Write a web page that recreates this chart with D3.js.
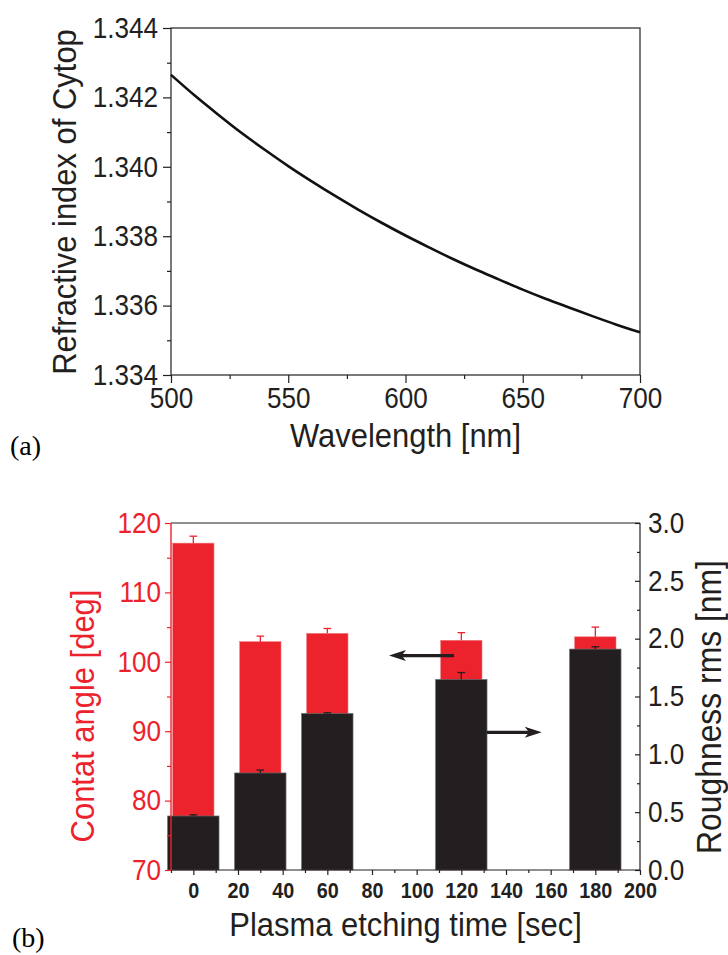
<!DOCTYPE html>
<html>
<head>
<meta charset="utf-8">
<script src="https://cdn.jsdelivr.net/npm/d3@7/dist/d3.min.js"></script>
<style>
  html, body { margin: 0; padding: 0; background: #fff; }
  svg { display: block; }
  text { font-family: "Liberation Sans", Arial, Helvetica, sans-serif; }
</style>
</head>
<body>
<svg id="chart" width="728" height="955"></svg>
<script>
// ---------- Data: panel (a) ----------
const wavelength = [500, 510, 520, 530, 540, 550, 560, 570, 580, 590, 600,
                    610, 620, 630, 640, 650, 660, 670, 680, 690, 700];
const refractiveIndex = [1.34265, 1.34206, 1.34151, 1.34098, 1.34049, 1.34002,
                         1.33958, 1.33916, 1.33876, 1.33838, 1.33802, 1.33768,
                         1.33735, 1.33704, 1.33675, 1.33646, 1.33619, 1.33594,
                         1.33569, 1.33545, 1.33523];
const wavelengthTicks = [500, 550, 600, 650, 700];
const wavelengthMinor = [525, 575, 625, 675];
const indexTicks = [1.334, 1.336, 1.338, 1.340, 1.342, 1.344];
const indexMinor = [1.335, 1.337, 1.339, 1.341, 1.343];

// ---------- Data: panel (b) ----------
const etchTime = [0, 30, 60, 120, 180];
const contactAngle = [117.1, 102.9, 104.1, 103.1, 103.6];
const contactAngleErr = [1.0, 0.8, 0.7, 1.1, 1.4];
const roughness = [0.467, 0.839, 1.353, 1.647, 1.910];
const roughnessErr = [0.010, 0.025, 0.006, 0.060, 0.020];
const timeTicks = [0, 20, 40, 60, 80, 100, 120, 140, 160, 180, 200];
const timeMinor = [-10, 10, 30, 50, 70, 90, 110, 130, 150, 170, 190];
const angleTicks = [70, 80, 90, 100, 110, 120];
const angleMinor = [75, 85, 95, 105, 115];
const roughTicks = [0, 0.5, 1.0, 1.5, 2.0, 2.5, 3.0];
const roughMinor = [0.25, 0.75, 1.25, 1.75, 2.25, 2.75];
// annotation arrows: [x start, x end, y value]
const arrowToAngle = [116.7, 87.6, 100.9];
const arrowToRoughness = [131.4, 156.0, 1.19];

// ---------- Styles ----------
const RED = "#ec222c";
const BLK = "#231f20";
const redBarWidth = 18.5;   // in time units
const blackBarWidth = 23;   // in time units
const SX = 0.9;             // horizontal condensing of the lettering
const TSX = 0.91;

const svg = d3.select("#chart");

function styleAxis(g, color, fontSize, weight, sx) {
  g.select(".domain").remove();
  g.selectAll(".tick line").attr("stroke", color).attr("stroke-width", 1.2);
  g.selectAll(".tick text").attr("fill", color)
    .style("font-size", fontSize + "px")
    .style("font-weight", weight || "normal")
    .style("font-family", "'Liberation Sans', Arial, sans-serif");
  if (sx) g.selectAll(".tick text").attr("transform", `scale(${sx},1)`);
}

// =================== Panel (a) ===================
const A = {left: 171, right: 640, top: 28, bottom: 375};
const xW = d3.scaleLinear().domain([500, 700]).range([A.left, A.right]);
const yN = d3.scaleLinear().domain([1.334, 1.344]).range([A.bottom, A.top]);

const gA = svg.append("g");

gA.append("g").attr("transform", `translate(${A.left},0)`)
  .call(d3.axisLeft(yN).tickValues(indexMinor).tickSize(4).tickFormat(""))
  .call(g => styleAxis(g, BLK, 29));
gA.append("g").attr("transform", `translate(0,${A.bottom})`)
  .call(d3.axisBottom(xW).tickValues(wavelengthMinor).tickSize(4).tickFormat(""))
  .call(g => styleAxis(g, BLK, 29));
gA.append("g").attr("transform", `translate(${A.left},0)`)
  .call(d3.axisLeft(yN).tickValues(indexTicks).tickSize(8).tickPadding(6.4).tickFormat(d3.format(".3f")))
  .call(g => styleAxis(g, BLK, 29, "normal", SX));
gA.append("g").attr("transform", `translate(0,${A.bottom})`)
  .call(d3.axisBottom(xW).tickValues(wavelengthTicks).tickSize(8).tickPadding(4).tickFormat(d3.format("d")))
  .call(g => styleAxis(g, BLK, 29, "normal", SX));

gA.append("rect")
  .attr("x", A.left).attr("y", A.top)
  .attr("width", A.right - A.left).attr("height", A.bottom - A.top)
  .attr("fill", "none").attr("stroke", BLK).attr("stroke-width", 1.2);

gA.append("path")
  .datum(wavelength.map((w, i) => [w, refractiveIndex[i]]))
  .attr("fill", "none").attr("stroke", "#111").attr("stroke-width", 2.6)
  .attr("d", d3.line().x(d => xW(d[0])).y(d => yN(d[1])).curve(d3.curveMonotoneX));

gA.append("text")
  .attr("transform", `translate(${(A.left + A.right) / 2},447) scale(${TSX},1)`)
  .attr("text-anchor", "middle").attr("fill", BLK)
  .style("font-size", "34px").text("Wavelength [nm]");
gA.append("text")
  .attr("transform", `translate(76,${(A.top + A.bottom) / 2 + 0.5}) rotate(-90) scale(${TSX},1)`)
  .attr("text-anchor", "middle").attr("fill", BLK)
  .style("font-size", "34px").text("Refractive index of Cytop");
gA.append("text")
  .attr("x", 10).attr("y", 455).attr("fill", "#000")
  .style("font-family", "'Liberation Serif', 'Times New Roman', serif")
  .style("font-size", "28px").text("(a)");

// =================== Panel (b) ===================
const B = {left: 171, right: 640, top: 523, bottom: 870};
const xT = d3.scaleLinear().domain([-10, 200]).range([B.left, B.right]);
const yA = d3.scaleLinear().domain([70, 120]).range([B.bottom, B.top]);
const yR = d3.scaleLinear().domain([0, 3]).range([B.bottom, B.top]);

const gB = svg.append("g");

gB.selectAll("rect.red").data(etchTime).enter().append("rect")
  .attr("class", "red")
  .attr("x", d => xT(d - redBarWidth / 2))
  .attr("width", xT(redBarWidth) - xT(0))
  .attr("y", (d, i) => yA(contactAngle[i]))
  .attr("height", (d, i) => yA(70) - yA(contactAngle[i]))
  .attr("fill", RED).attr("stroke", "#f07a80").attr("stroke-width", 0.6);

const capHalf = 3.8;
const redErr = gB.selectAll("g.rerr").data(etchTime).enter().append("g").attr("class", "rerr");
redErr.append("line")
  .attr("x1", d => xT(d)).attr("x2", d => xT(d))
  .attr("y1", (d, i) => yA(contactAngle[i]))
  .attr("y2", (d, i) => yA(contactAngle[i] + contactAngleErr[i]))
  .attr("stroke", RED).attr("stroke-width", 1.3);
redErr.append("line")
  .attr("x1", d => xT(d) - capHalf).attr("x2", d => xT(d) + capHalf)
  .attr("y1", (d, i) => yA(contactAngle[i] + contactAngleErr[i]))
  .attr("y2", (d, i) => yA(contactAngle[i] + contactAngleErr[i]))
  .attr("stroke", RED).attr("stroke-width", 1.3);

gB.selectAll("rect.blk").data(etchTime).enter().append("rect")
  .attr("class", "blk")
  .attr("x", d => xT(d - blackBarWidth / 2))
  .attr("width", xT(blackBarWidth) - xT(0))
  .attr("y", (d, i) => yR(roughness[i]))
  .attr("height", (d, i) => yR(0) - yR(roughness[i]))
  .attr("fill", BLK).attr("stroke", "#6d6a6b").attr("stroke-width", 0.7);

const blkErr = gB.selectAll("g.berr").data(etchTime).enter().append("g").attr("class", "berr");
blkErr.append("line")
  .attr("x1", d => xT(d)).attr("x2", d => xT(d))
  .attr("y1", (d, i) => yR(roughness[i]))
  .attr("y2", (d, i) => yR(roughness[i] + roughnessErr[i]))
  .attr("stroke", BLK).attr("stroke-width", 1.3);
blkErr.append("line")
  .attr("x1", d => xT(d) - capHalf).attr("x2", d => xT(d) + capHalf)
  .attr("y1", (d, i) => yR(roughness[i] + roughnessErr[i]))
  .attr("y2", (d, i) => yR(roughness[i] + roughnessErr[i]))
  .attr("stroke", BLK).attr("stroke-width", 1.3);

// axes
gB.append("g").attr("transform", `translate(${B.left},0)`)
  .call(d3.axisLeft(yA).tickValues(angleMinor).tickSize(4).tickFormat(""))
  .call(g => styleAxis(g, RED, 29));
gB.append("g").attr("transform", `translate(${B.left},0)`)
  .call(d3.axisLeft(yA).tickValues(angleTicks).tickSize(6).tickPadding(5.1).tickFormat(d3.format("d")))
  .call(g => styleAxis(g, RED, 29, "normal", SX));

gB.append("g").attr("transform", `translate(${B.right},0)`)
  .call(d3.axisRight(yR).tickValues(roughMinor).tickSize(-3).tickFormat(""))
  .call(g => styleAxis(g, BLK, 29));
gB.append("g").attr("transform", `translate(${B.right},0)`)
  .call(d3.axisRight(yR).tickValues(roughTicks).tickSize(-5).tickPadding(8.9).tickFormat(d3.format(".1f")))
  .call(g => styleAxis(g, BLK, 29, "normal", SX));

gB.append("g").attr("transform", `translate(0,${B.bottom})`)
  .call(d3.axisBottom(xT).tickValues(timeMinor).tickSize(3).tickFormat(""))
  .call(g => styleAxis(g, BLK, 22));
gB.append("g").attr("transform", `translate(0,${B.bottom})`)
  .call(d3.axisBottom(xT).tickValues(timeTicks).tickSize(5).tickPadding(7.5).tickFormat(d3.format("d")))
  .call(g => styleAxis(g, BLK, 22, "bold", 0.9));

gB.append("line").attr("x1", B.left).attr("x2", B.right).attr("y1", B.top).attr("y2", B.top)
  .attr("stroke", BLK).attr("stroke-width", 1.2);
gB.append("line").attr("x1", B.left).attr("x2", B.right).attr("y1", B.bottom).attr("y2", B.bottom)
  .attr("stroke", BLK).attr("stroke-width", 1.2);
gB.append("line").attr("x1", B.right).attr("x2", B.right).attr("y1", B.top).attr("y2", B.bottom)
  .attr("stroke", BLK).attr("stroke-width", 1.2);
gB.append("line").attr("x1", B.left).attr("x2", B.left).attr("y1", B.top).attr("y2", B.bottom)
  .attr("stroke", RED).attr("stroke-width", 1.4);

function drawArrow(x1, x2, y) {
  const dir = Math.sign(x2 - x1);
  const headLen = 17, headHalf = 5.5;
  gB.append("line")
    .attr("x1", x1).attr("x2", x2 - dir * headLen * 0.6)
    .attr("y1", y).attr("y2", y)
    .attr("stroke", BLK).attr("stroke-width", 3.2);
  gB.append("path")
    .attr("d", `M${x2},${y} L${x2 - dir * headLen},${y - headHalf} L${x2 - dir * headLen * 0.75},${y} L${x2 - dir * headLen},${y + headHalf} Z`)
    .attr("fill", BLK);
}
drawArrow(xT(arrowToAngle[0]), xT(arrowToAngle[1]), yA(arrowToAngle[2]));
drawArrow(xT(arrowToRoughness[0]), xT(arrowToRoughness[1]), yR(arrowToRoughness[2]));

gB.append("text")
  .attr("transform", `translate(${(B.left + B.right) / 2},936) scale(${TSX},1)`)
  .attr("text-anchor", "middle").attr("fill", BLK)
  .style("font-size", "34px").text("Plasma etching time [sec]");
gB.append("text")
  .attr("transform", `translate(94,716) rotate(-90) scale(${TSX},1)`)
  .attr("text-anchor", "middle").attr("fill", RED)
  .style("font-size", "34px").text("Contat angle [deg]");
gB.append("text")
  .attr("transform", `translate(721,707) rotate(-90) scale(${TSX},1)`)
  .attr("text-anchor", "middle").attr("fill", BLK)
  .style("font-size", "35px").text("Roughness rms [nm]");
gB.append("text")
  .attr("x", 12).attr("y", 947).attr("fill", "#000")
  .style("font-family", "'Liberation Serif', 'Times New Roman', serif")
  .style("font-size", "28px").text("(b)");
</script>
</body>
</html>
